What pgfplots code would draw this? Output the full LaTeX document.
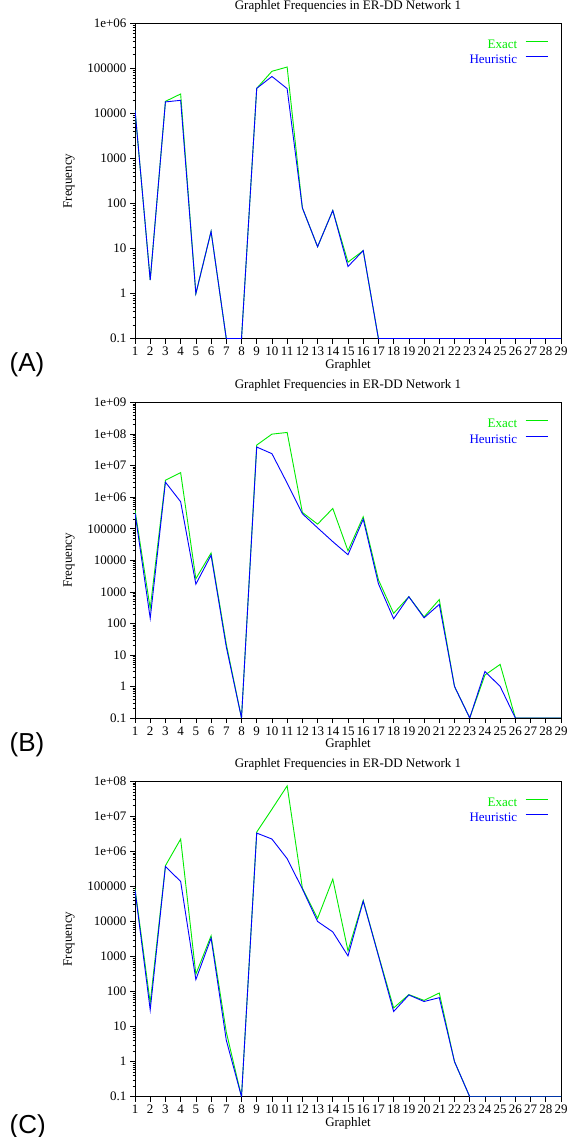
\documentclass[border=0pt]{standalone}
\usepackage{fontspec}
\setmainfont{Liberation Serif}
\newfontfamily\labelfont{Liberation Sans}
\usepackage{pgfplots}
\pgfplotsset{compat=1.18}
\definecolor{exactgreen}{RGB}{0,235,0}
\definecolor{heurblue}{RGB}{0,0,255}
\newcommand{\fs}{\fontsize{13}{15}\selectfont}

\pgfplotstableread{
x exact heur
1 12000 12000
2 2 2
3 18500 18000
4 27000 19500
5 1 1
6 24 24
7 0.1 0.1
8 0.1 0.1
9 36000 36000
10 86000 66000
11 107000 35500
12 80 80
13 11 11
14 70 70
15 5 4
16 9 9
17 0.1 0.1
18 0.1 0.1
19 0.1 0.1
20 0.1 0.1
21 0.1 0.1
22 0.1 0.1
23 0.1 0.1
24 0.1 0.1
25 0.1 0.1
26 0.1 0.1
27 0.1 0.1
28 0.1 0.1
29 0.1 0.1
}\dataA

\pgfplotstableread{
x exact heur
1 390000 320000
2 300 145
3 3460000 3000000
4 6000000 720000
5 2600 1750
6 17000 14500
7 22 18
8 0.1 0.1
9 45000000 39000000
10 100000000 24000000
11 113000000 2800000
12 330000 300000
13 140000 107000
14 440000 39000
15 20000 15000
16 240000 200000
17 2400 1800
18 208 140
19 700 700
20 160 150
21 570 400
22 1 1
23 0.1 0.1
24 2.3 3
25 5 1
26 0.1 0.1
27 0.1 0.1
28 0.1 0.1
29 0.1 0.1
}\dataB

\pgfplotstableread{
x exact heur
1 88000 79000
2 48 30
3 390000 370000
4 2250000 139000
5 313 220
6 3900 3350
7 7 4.1
8 0.1 0.1
9 3560000 3330000
10 16000000 2250000
11 74000000 620000
12 90000 85000
13 12200 10000
14 162000 5040
15 1445 1040
16 40000 38000
17 1100 1050
18 34 27
19 82 80
20 56 52
21 91 67
22 1 1
23 0.1 0.1
24 0.1 0.1
25 0.1 0.1
26 0.1 0.1
27 0.1 0.1
28 0.1 0.1
29 0.1 0.1
}\dataC

\pgfplotsset{
  graphlet/.style={
    scale only axis, width=426pt, height=315.4pt,
    xmin=1, xmax=29,
    enlargelimits=false,
    xtick={1,2,3,4,5,6,7,8,9,10,11,12,13,14,15,16,17,18,19,20,21,22,23,24,25,26,27,28,29},
    xticklabels={1,2,3,4,5,6,7,8,9,10,11,12,13,14,15,16,17,18,19,20,21,22,23,24,25,26,27,28,29},
    tick align=outside, tick pos=left,
    major tick length=5pt, minor tick length=2.5pt,
    tick style={black, line width=0.6pt},
    axis line style={black, line width=0.9pt},
    every tick label/.append style={font=\fs},
    title={Graphlet Frequencies in ER-DD Network 1},
    title style={font=\fs, at={(axis description cs:0.5,1.0247)}, anchor=base, inner sep=0pt},
    xlabel={Graphlet},
    xlabel style={font=\fs, at={(axis description cs:0.5,-0.0951)}, anchor=base, inner sep=0pt},
    ylabel={Frequency},
    ylabel style={font=\fs, at={(axis description cs:-0.155,0.5)}, anchor=center},
    legend plot pos=right,
    legend cell align=right,
    legend style={draw=none, fill=none, inner sep=0pt, outer sep=0pt,
      at={(axis description cs:0.9709,0.9566)}, anchor=north east,
      font=\fs, row sep=0pt, column sep=0pt,
      nodes={inner sep=0pt, outer sep=0pt, text height=9pt, text depth=3.7pt}},
    legend image code/.code={\path[draw=none, fill=none] (0pt,-3.7pt) rectangle (31pt,9pt);\draw[##1] (8.4pt,4.6pt) -- (31pt,4.6pt);},
  }
}

\begin{document}
\begin{tikzpicture}
\useasboundingbox (0,0) rectangle (571pt,1137pt);

% Panel A
\begin{semilogyaxis}[graphlet, at={(135pt,798.3pt)}, anchor=south west,
  ymin=0.1, ymax=1e6,
  ytick={0.1,1,10,100,1000,10000,100000,1000000},
  yticklabels={0.1,1,10,100,1000,10000,100000,1e+06},
  minor ytick={0.2,0.3,0.4,0.5,0.6,0.7,0.8,0.9,2,3,4,5,6,7,8,9,20,30,40,50,60,70,80,90,200,300,400,500,600,700,800,900,2e3,3e3,4e3,5e3,6e3,7e3,8e3,9e3,2e4,3e4,4e4,5e4,6e4,7e4,8e4,9e4,2e5,3e5,4e5,5e5,6e5,7e5,8e5,9e5}]
\addplot[exactgreen, line width=0.9pt, mark=none] table[x=x, y=exact] {\dataA};
\addplot[heurblue, line width=0.9pt, mark=none] table[x=x, y=heur] {\dataA};
\legend{\textcolor{exactgreen}{Exact}, \textcolor{heurblue}{Heuristic}}
\end{semilogyaxis}

% Panel B
\begin{semilogyaxis}[graphlet, at={(135pt,419pt)}, anchor=south west,
  ymin=0.1, ymax=1e9,
  ytick={0.1,1,10,100,1000,10000,100000,1000000,1e7,1e8,1e9},
  yticklabels={0.1,1,10,100,1000,10000,100000,1e+06,1e+07,1e+08,1e+09},
  minor ytick={0.2,0.3,0.4,0.5,0.6,0.7,0.8,0.9,2,3,4,5,6,7,8,9,20,30,40,50,60,70,80,90,200,300,400,500,600,700,800,900,2e3,3e3,4e3,5e3,6e3,7e3,8e3,9e3,2e4,3e4,4e4,5e4,6e4,7e4,8e4,9e4,2e5,3e5,4e5,5e5,6e5,7e5,8e5,9e5,2e6,3e6,4e6,5e6,6e6,7e6,8e6,9e6,2e7,3e7,4e7,5e7,6e7,7e7,8e7,9e7,2e8,3e8,4e8,5e8,6e8,7e8,8e8,9e8}]
\addplot[exactgreen, line width=0.9pt, mark=none] table[x=x, y=exact] {\dataB};
\addplot[heurblue, line width=0.9pt, mark=none] table[x=x, y=heur] {\dataB};
\legend{\textcolor{exactgreen}{Exact}, \textcolor{heurblue}{Heuristic}}
\end{semilogyaxis}

% Panel C
\begin{semilogyaxis}[graphlet, at={(135pt,40.3pt)}, anchor=south west,
  ymin=0.1, ymax=1e8,
  ytick={0.1,1,10,100,1000,10000,100000,1000000,1e7,1e8},
  yticklabels={0.1,1,10,100,1000,10000,100000,1e+06,1e+07,1e+08},
  minor ytick={0.2,0.3,0.4,0.5,0.6,0.7,0.8,0.9,2,3,4,5,6,7,8,9,20,30,40,50,60,70,80,90,200,300,400,500,600,700,800,900,2e3,3e3,4e3,5e3,6e3,7e3,8e3,9e3,2e4,3e4,4e4,5e4,6e4,7e4,8e4,9e4,2e5,3e5,4e5,5e5,6e5,7e5,8e5,9e5,2e6,3e6,4e6,5e6,6e6,7e6,8e6,9e6,2e7,3e7,4e7,5e7,6e7,7e7,8e7,9e7}]
\addplot[exactgreen, line width=0.9pt, mark=none] table[x=x, y=exact] {\dataC};
\addplot[heurblue, line width=0.9pt, mark=none] table[x=x, y=heur] {\dataC};
\legend{\textcolor{exactgreen}{Exact}, \textcolor{heurblue}{Heuristic}}
\end{semilogyaxis}

\node[font=\labelfont\fontsize{26}{26}\selectfont, anchor=base west, inner sep=0pt] at (9.5pt,765.3pt) {(A)};
\node[font=\labelfont\fontsize{26}{26}\selectfont, anchor=base west, inner sep=0pt] at (9.5pt,385.3pt) {(B)};
\node[font=\labelfont\fontsize{26}{26}\selectfont, anchor=base west, inner sep=0pt] at (9.5pt,4pt) {(C)};
\end{tikzpicture}
\end{document}
